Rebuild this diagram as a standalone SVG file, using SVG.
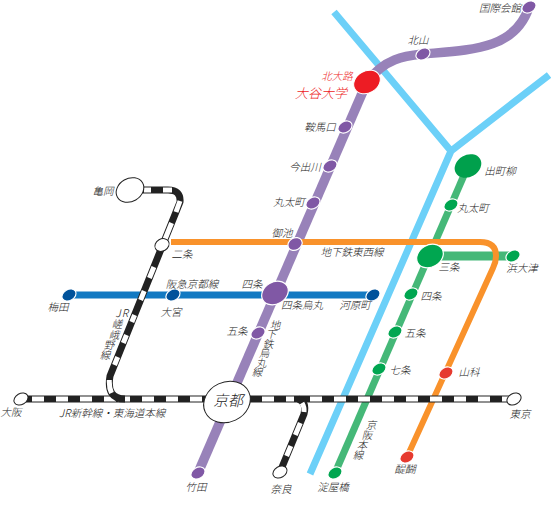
<svg xmlns="http://www.w3.org/2000/svg" width="551" height="529" viewBox="0 0 551 529">
<style>
text{font-family:"Noto Sans CJK JP","Liberation Sans",sans-serif;font-size:10.500px;font-style:italic;fill:#222;text-anchor:middle;font-weight:300}
.line{fill:none;stroke-linecap:butt;stroke-linejoin:round}
.purple{stroke:#9882b9;stroke-width:9.500}
.sky{stroke:#6cd0f8;stroke-width:7}
.green{stroke:#45b878;stroke-width:7}
.orange{stroke:#f9922b;stroke-width:6}
.blue{stroke:#1279c2;stroke-width:7}
.jrb{stroke:#222;stroke-width:7}
.jrw{stroke:#fff;stroke-width:5}
.st{stroke:#fff;stroke-width:1.200}
.p{fill:#8058a5}.g{fill:#00a650}.r{fill:#e63a2f}.b{fill:#00529b}
.w{fill:#fff;stroke:#222;stroke-width:1}
</style>
<g id="connectors">
<path class="line sky" d="M334 12L451 151L549 75M451 151L310 474"/>
<path class="line purple" d="M198 473L367 82"/>
<path class="line purple" d="M367 82C385 58 405 56 423 54C470 50 515 50 529 7"/>
<path class="line blue" d="M69 295H373"/>
<path class="line green" d="M468 166L335 473"/>
<path class="line green" style="stroke-width:9" d="M430 256H513"/>
<path class="line orange" d="M171 242H480Q496 242 496 256Q496 262 493 268L407 457"/>
<path class="line jrb" d="M22 399H514"/>
<path class="line jrw" d="M32 399H44M56 399H68M80 399H92M104 399H116M118 399H130M142 399H154M166 399H178M190 399H202M262 399H274M286 399H294M310 399H322M334 399H346M358 399H370M382 399H394M406 399H418M430 399H442M454 399H466M478 399H490M502 399H510"/>
<path class="line jrb" d="M130 190H168Q181 190 180 202L110 376Q106 399 125 399"/>
<path class="line jrw" d="M144 190H151M163 190H172M180 201L176 212M171.600 223L164.700 240M153.900 267L149.400 278M144.200 291L140.600 300M134.600 315L131.800 322M126.500 335L123.300 343M117.700 357L114.500 365M109.300 380Q109 388 111.500 393"/>
<path class="line jrb" d="M298 399Q307 402 304 414L280 472"/>
<path class="line jrw" d="M302 403Q304.500 407 304 412M300.300 423L295.300 435M290.800 446L286.600 456"/>
</g>
<g id="n-kokusai"><ellipse class="p st" cx="529" cy="7" rx="7.500" ry="5.500" transform="rotate(-30 529 7)"/><text x="500" y="11.500">国際会館</text></g>
<g id="n-kitayama"><ellipse class="p st" cx="423" cy="54" rx="7.500" ry="5.500" transform="rotate(-30 423 54)"/><text x="418" y="44">北山</text></g>
<g id="n-kitaoji"><ellipse fill="#ed1c24" stroke="#fff" cx="367" cy="82" rx="14" ry="11" transform="rotate(-30 367 82)"/><text x="337" y="80" style="fill:#ed1c24">北大路</text><text x="321" y="98" style="fill:#ed1c24;font-size:13px">大谷大学</text></g>
<g id="n-kurama"><ellipse class="p st" cx="345" cy="127" rx="7.500" ry="5.500" transform="rotate(-30 345 127)"/><text x="320" y="131">鞍馬口</text></g>
<g id="n-imadegawa"><ellipse class="p st" cx="330" cy="166" rx="7.500" ry="5.500" transform="rotate(-30 330 166)"/><text x="305" y="171">今出川</text></g>
<g id="n-marutamachi"><ellipse class="p st" cx="313" cy="203" rx="7.500" ry="5.500" transform="rotate(-30 313 203)"/><text x="289" y="206">丸太町</text></g>
<g id="n-oike"><ellipse class="p st" cx="295" cy="244" rx="7.500" ry="6" transform="rotate(-30 295 244)"/><text x="282" y="237">御池</text></g>
<g id="n-shijo"><ellipse class="p st" cx="275" cy="293" rx="14" ry="11" transform="rotate(-30 275 293)"/><text x="252" y="288">四条</text><text x="302" y="309">四条烏丸</text></g>
<g id="n-gojo"><ellipse class="p st" cx="258" cy="333" rx="7.500" ry="5.500" transform="rotate(-30 258 333)"/><text x="237" y="335">五条</text></g>
<g id="n-takeda"><ellipse class="p st" cx="198" cy="473" rx="7.500" ry="5.500" transform="rotate(-30 198 473)"/><text x="196" y="491">竹田</text></g>
<g id="n-kyoto"><ellipse class="w" cx="227" cy="402" rx="24" ry="20" transform="rotate(-25 227 402)"/><text x="228" y="406" style="font-size:15px">京都</text></g>
<g id="n-osaka"><ellipse class="w" cx="21" cy="399" rx="7.500" ry="5.500" transform="rotate(-30 21 399)"/><text x="11" y="416">大阪</text></g>
<g id="n-tokyo"><ellipse class="w" cx="514" cy="399" rx="7.500" ry="5.500" transform="rotate(-30 514 399)"/><text x="520" y="418">東京</text></g>
<g id="n-nara"><ellipse class="w" cx="280" cy="472" rx="7.500" ry="5.500" transform="rotate(-30 280 472)"/><text x="281" y="493">奈良</text></g>
<g id="n-kameoka"><ellipse class="w" cx="130" cy="190" rx="14.500" ry="11.500" transform="rotate(-30 130 190)"/><text x="103" y="195">亀岡</text></g>
<g id="n-nijo"><ellipse class="w" cx="162" cy="245" rx="7.500" ry="6" transform="rotate(-30 162 245)"/><text x="182" y="258">二条</text></g>
<g id="n-umeda"><ellipse class="b st" cx="69" cy="295" rx="7.500" ry="5.500" transform="rotate(-30 69 295)"/><text x="58" y="311">梅田</text></g>
<g id="n-omiya"><ellipse class="b st" cx="173" cy="295" rx="7.500" ry="5.500" transform="rotate(-30 173 295)"/><text x="171" y="316">大宮</text></g>
<g id="n-kawaramachi"><ellipse class="b st" cx="373" cy="295" rx="7.500" ry="5.500" transform="rotate(-30 373 295)"/><text x="355" y="309">河原町</text></g>
<g id="n-demachi"><ellipse fill="#00a04c" cx="468" cy="166" rx="14" ry="11" transform="rotate(-30 468 166)"/><text x="500" y="175">出町柳</text></g>
<g id="n-marutamachi2"><ellipse class="g st" cx="451" cy="205" rx="7.500" ry="5.500" transform="rotate(-30 451 205)"/><text x="473" y="212">丸太町</text></g>
<g id="n-sanjo"><ellipse class="g st" cx="430" cy="256" rx="14" ry="11" transform="rotate(-30 430 256)"/><text x="449" y="271">三条</text></g>
<g id="n-hamaotsu"><ellipse class="g st" cx="513" cy="256" rx="7.500" ry="5.500" transform="rotate(-30 513 256)"/><text x="522" y="272">浜大津</text></g>
<g id="n-shijo2"><ellipse class="g st" cx="411" cy="294" rx="7.500" ry="5.500" transform="rotate(-30 411 294)"/><text x="431" y="300">四条</text></g>
<g id="n-gojo2"><ellipse class="g st" cx="395" cy="332" rx="7.500" ry="5.500" transform="rotate(-30 395 332)"/><text x="415" y="337">五条</text></g>
<g id="n-shichijo"><ellipse class="g st" cx="379" cy="369" rx="7.500" ry="5.500" transform="rotate(-30 379 369)"/><text x="400" y="374">七条</text></g>
<g id="n-yodoyabashi"><ellipse class="g st" cx="335" cy="473" rx="7.500" ry="5.500" transform="rotate(-30 335 473)"/><text x="333" y="491">淀屋橋</text></g>
<g id="n-yamashina"><ellipse class="r st" cx="446" cy="373" rx="7.500" ry="5.500" transform="rotate(-30 446 373)"/><text x="469" y="376">山科</text></g>
<g id="n-daigo"><ellipse class="r st" cx="407" cy="457" rx="7.500" ry="5.500" transform="rotate(-30 407 457)"/><text x="405" y="473">醍醐</text></g>
<g id="labels">
<text x="112" y="417">JR新幹線・東海道本線</text>
<text x="192" y="288">阪急京都線</text>
<text x="352" y="256">地下鉄東西線</text>
<text x="275 271 268 264 261 257" y="329 338 348 357 367 376">地下鉄烏丸線</text>
<text x="371 367 362 358" y="429 439 449 459">京阪本線</text>
<text x="118 125 117 114 109 105" y="317 317 328 339 349 359">JR嵯峨野線</text>
</g>
</svg>
